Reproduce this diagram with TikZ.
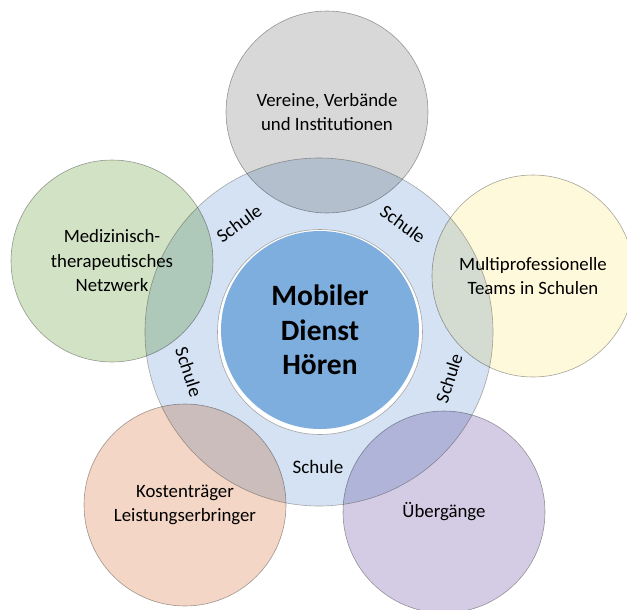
\documentclass[tikz,border=0pt]{standalone}
\usepackage{fontspec}
\setmainfont{Carlito}
\usetikzlibrary{positioning}

\definecolor{ringblue}{RGB}{212,226,243}
\definecolor{kernblue}{RGB}{126,174,222}
\definecolor{kreisgrau}{RGB}{216,216,216}
\definecolor{kreisgruen}{RGB}{210,226,196}
\definecolor{kreisgelb}{RGB}{255,249,220}
\definecolor{kreislila}{RGB}{212,204,228}
\definecolor{kreisrosa}{RGB}{243,214,198}
\definecolor{randgrau}{RGB}{165,165,165}

\tikzset{
  partner/.style={circle, minimum size=202pt, inner sep=0pt, fill=#1,
    draw=randgrau, line width=0.6pt, blend mode=multiply, align=center,
    font=\fontsize{18.8}{24.5}\selectfont},
  schule/.style={inner sep=0pt, font=\fontsize{19}{20}\selectfont},
}

\begin{document}
\begin{tikzpicture}[x=1pt,y=-1pt]
      \useasboundingbox (0,0) rectangle (627,610);
      % Schulring und Kern
      \node[circle, minimum size=348pt, fill=ringblue, draw=randgrau, line width=0.6pt] (ring) at (319,332) {};
      \node[circle, minimum size=205pt, fill=white, draw=randgrau, line width=0.6pt] (kernrand) at (320,332) {};
      \node[circle, minimum size=198pt, fill=kernblue, align=center, font=\bfseries\fontsize{29.5}{34.5}\selectfont] (kern) at (320,330) {Mobiler\\Dienst\\Hören};
      % Partnerkreise
      \node[partner=kreisgrau] (verein) at (327,112) {Vereine, Verbände\\und Institutionen};
      \node[partner=kreisgruen] (medizin) at (112,261) {Medizinisch-\\therapeutisches\\Netzwerk};
      \node[partner=kreisgelb] (teams) at (533,276) {Multiprofessionelle\\Teams in Schulen};
      \node[partner=kreislila] (uebergang) at (444,512) {Übergänge};
      \node[partner=kreisrosa] (kosten) at (185,505) {Kostenträger\\Leistungserbringer};
      % Beschriftung im Ring
      \node[schule, rotate=36] (schuleA) at (239,223) {Schule};
      \node[schule, rotate=-36] (schuleB) at (403,224) {Schule};
      \node[schule, rotate=72] (schuleC) at (449,378) {Schule};
      \node[schule] (schuleD) at (318,467) {Schule};
      \node[schule, rotate=-72] (schuleE) at (189,372) {Schule};
\end{tikzpicture}
\end{document}
